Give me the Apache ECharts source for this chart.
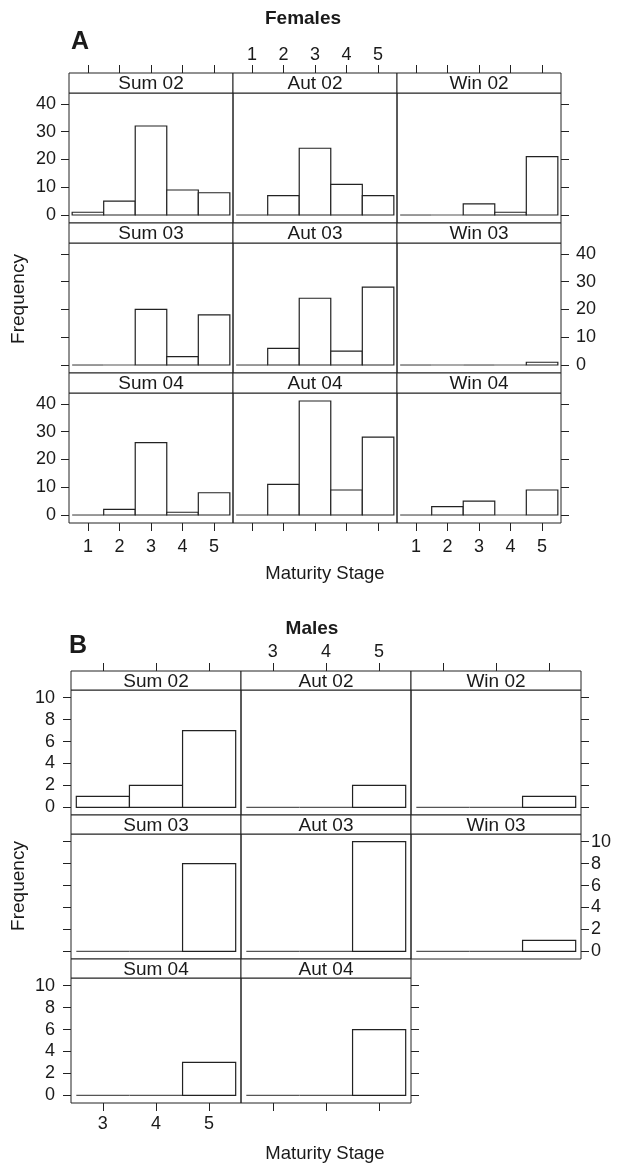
<!DOCTYPE html>
<html><head><meta charset="utf-8">
<script src="https://cdn.jsdelivr.net/npm/echarts@6/dist/echarts.min.js"></script>
<style>html,body{margin:0;padding:0;background:#fff}#c{width:617px;height:1163px}</style>
</head><body><div id="c"></div>
<script>
// ---------- DATA ----------
const femaleStages = [1, 2, 3, 4, 5];
const maleStages = [3, 4, 5];
const femalePanels = ['Sum 02', 'Aut 02', 'Win 02', 'Sum 03', 'Aut 03', 'Win 03', 'Sum 04', 'Aut 04', 'Win 04'];
const malePanels = ['Sum 02', 'Aut 02', 'Win 02', 'Sum 03', 'Aut 03', 'Win 03', 'Sum 04', 'Aut 04'];
// Females: frequency per maturity stage 1..5
const fSum02 = [1, 5, 32, 9, 8];
const fAut02 = [0, 7, 24, 11, 7];
const fWin02 = [0, 0, 4, 1, 21];
const fSum03 = [0, 0, 20, 3, 18];
const fAut03 = [0, 6, 24, 5, 28];
const fWin03 = [0, 0, 0, 0, 1];
const fSum04 = [0, 2, 26, 1, 8];
const fAut04 = [0, 11, 41, 9, 28];
const fWin04 = [0, 3, 5, 0, 9];
// Males: frequency per maturity stage 3..5
const mSum02 = [1, 2, 7];
const mAut02 = [0, 0, 2];
const mWin02 = [0, 0, 1];
const mSum03 = [0, 0, 8];
const mAut03 = [0, 0, 10];
const mWin03 = [0, 0, 1];
const mSum04 = [0, 0, 3];
const mAut04 = [0, 0, 6];
const femaleCounts = [fSum02, fAut02, fWin02, fSum03, fAut03, fWin03, fSum04, fAut04, fWin04];
const maleCounts = [mSum02, mAut02, mWin02, mSum03, mAut03, mWin03, mSum04, mAut04];
const femaleYTicks = [0, 10, 20, 30, 40];
const maleYTicks = [0, 2, 4, 6, 8, 10];
const femaleXTicks = [1, 2, 3, 4, 5];
const maleXTicks = [3, 4, 5];

// ---------- BUILD ----------
const FONT = '"Liberation Sans", Arial, Helvetica, sans-serif';
const INK = '#1a1a1a';
const grids = [], xAxes = [], yAxes = [], series = [], graphics = [];

function renderItem(params, api) {
  const x = api.value(0), y = api.value(1);
  const p0 = api.coord([x - 0.5, 0]);
  const p1 = api.coord([x + 0.5, y]);
  if (y === 0) {
    return { type: 'line', shape: { x1: p0[0], y1: p0[1], x2: p1[0], y2: p0[1] },
      style: { stroke: '#555', lineWidth: 1.2 } };
  }
  return { type: 'rect', shape: { x: p0[0], y: p1[1], width: p1[0] - p0[0], height: p0[1] - p1[1] },
    style: { fill: '#fff', stroke: '#222', lineWidth: 1.2 } };
}

function makeX(cfg, gi, pos, offset, show, labels, margin) {
  return { type: 'value', gridIndex: gi, position: pos, offset: offset, min: cfg.xMin, max: cfg.xMax, show: show,
    axisLine: { show: false, onZero: false }, splitLine: { show: false },
    axisTick: { show: true, inside: false, length: 8, customValues: cfg.xTicks, lineStyle: { color: '#222', width: 1 } },
    axisLabel: { show: labels, customValues: cfg.xTicks, margin: margin, fontSize: 18, color: INK, fontFamily: FONT } };
}
function makeY(cfg, gi, pos, show, labels, margin) {
  return { type: 'value', gridIndex: gi, position: pos, min: cfg.yMin, max: cfg.yMax, show: show,
    axisLine: { show: false, onZero: false }, splitLine: { show: false },
    axisTick: { show: true, inside: false, length: 8, customValues: cfg.yTicks, lineStyle: { color: '#222', width: 1 } },
    axisLabel: { show: labels, customValues: cfg.yTicks, margin: margin, fontSize: 18, color: INK, fontFamily: FONT } };
}

function facet(cfg) {
  const n = cfg.names.length;
  cfg.names.forEach((name, i) => {
    const r = Math.floor(i / cfg.nCols), c = i % cfg.nCols;
    const gi = grids.length;
    const left = cfg.colX[c], top = cfg.rowTop[r];
    grids.push({ left: left, top: top + cfg.stripH, width: cfg.W, height: cfg.plotH, show: true,
      borderColor: '#222', borderWidth: 1, backgroundColor: 'rgba(0,0,0,0)' });
    const isBottom = r === cfg.nRows - 1;
    const xi = xAxes.length;
    xAxes.push(makeX(cfg, gi, 'bottom', 0, isBottom, isBottom && c % 2 === 0, cfg.mBottom));
    if (r === 0) xAxes.push(makeX(cfg, gi, 'top', cfg.stripH, true, c % 2 === 1, cfg.mTop));
    const yi = yAxes.length;
    yAxes.push(makeY(cfg, gi, 'left', c === 0, c === 0 && r % 2 === 0, cfg.mLeft));
    const lastInRow = (c === cfg.nCols - 1) || (i === n - 1);
    if (lastInRow) yAxes.push(makeY(cfg, gi, 'right', true, r % 2 === 1, cfg.mRight));
    series.push({ type: 'custom', xAxisIndex: xi, yAxisIndex: yi, silent: true,
      data: cfg.stages.map((s, k) => [s, cfg.counts[i][k]]), renderItem: renderItem });
    graphics.push({ type: 'rect', shape: { x: left, y: top, width: cfg.W, height: cfg.stripH },
      style: { fill: '#fff', stroke: '#222', lineWidth: 1 }, z: 10 });
    graphics.push({ type: 'text', x: left + cfg.W / 2, y: top + cfg.stripH / 2 + 1, z: 11,
      style: { text: name, fontSize: 19, fontFamily: FONT, fill: INK, align: 'center', verticalAlign: 'middle' } });
  });
}

facet({ names: femalePanels, counts: femaleCounts, stages: femaleStages,
  colX: [69, 233, 397], W: 164, rowTop: [73, 223, 373], stripH: 20, plotH: 130, nRows: 3, nCols: 3,
  xMin: 0.4, xMax: 5.6, yMin: -2.87, yMax: 43.87, xTicks: femaleXTicks, yTicks: femaleYTicks,
  mLeft: 13, mRight: 15, mTop: 9, mBottom: 15 });
facet({ names: malePanels, counts: maleCounts, stages: maleStages,
  colX: [71, 241, 411], W: 170, rowTop: [671, 815, 959], stripH: 19, plotH: 125, nRows: 3, nCols: 3,
  xMin: 2.4, xMax: 5.6, yMin: -0.7, yMax: 10.7, xTicks: maleXTicks, yTicks: maleYTicks,
  mLeft: 16, mRight: 10, mTop: 10, mBottom: 12 });

function txt(s, x, y, size, bold, rot) {
  graphics.push({ type: 'text', x: x, y: y, rotation: rot || 0, z: 11,
    style: { text: s, fontSize: size, fontWeight: bold ? 'bold' : 'normal', fontFamily: FONT, fill: INK,
      align: 'center', verticalAlign: 'middle' } });
}
txt('Females', 303, 19, 19, true);
txt('A', 80, 42, 25, true);
txt('Frequency', 19, 299, 19, false, Math.PI / 2);
txt('Maturity Stage', 325, 574, 18.5, false);
txt('Males', 312, 629, 19, true);
txt('B', 78, 646, 25, true);
txt('Frequency', 19, 886, 19, false, Math.PI / 2);
txt('Maturity Stage', 325, 1154, 18.5, false);

const chart = echarts.init(document.getElementById('c'), null, { renderer: 'canvas' });
chart.setOption({ animation: false, backgroundColor: '#fff', textStyle: { fontFamily: FONT },
  grid: grids, xAxis: xAxes, yAxis: yAxes, series: series, graphic: graphics });
</script></body></html>
